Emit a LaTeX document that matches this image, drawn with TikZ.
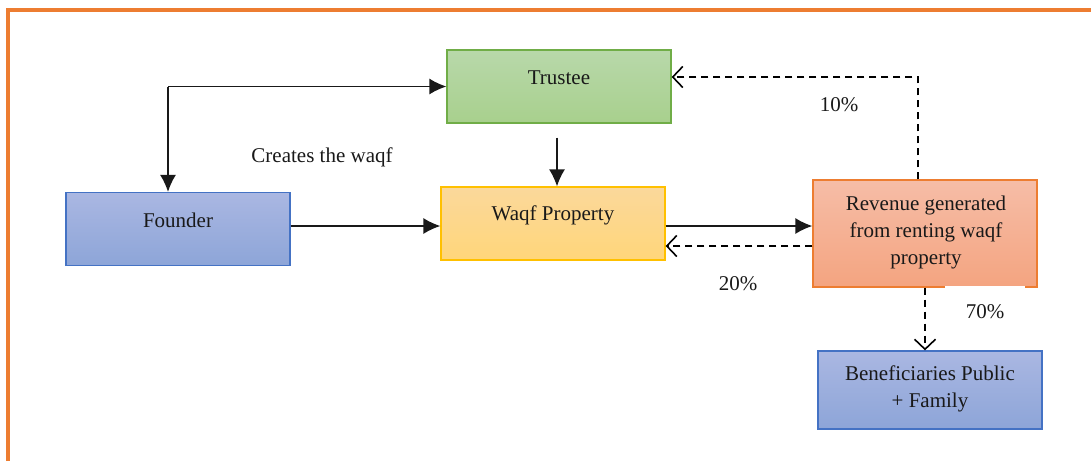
\documentclass[tikz,border=0pt]{standalone}
\usepackage{fontspec}
\setmainfont{Liberation Serif}
\usetikzlibrary{arrows.meta}
\definecolor{frameorange}{RGB}{237,125,49}
\definecolor{greenTop}{RGB}{184,216,170}
\definecolor{greenBot}{RGB}{168,208,141}
\definecolor{greenLine}{RGB}{112,173,71}
\definecolor{yellowTop}{RGB}{251,216,155}
\definecolor{yellowBot}{RGB}{255,214,122}
\definecolor{yellowLine}{RGB}{255,192,0}
\definecolor{blueTop}{RGB}{170,183,226}
\definecolor{blueBot}{RGB}{141,165,216}
\definecolor{blueLine}{RGB}{68,114,196}
\definecolor{salmonTop}{RGB}{246,189,167}
\definecolor{salmonBot}{RGB}{244,164,128}
\definecolor{salmonLine}{RGB}{237,125,49}
\begin{document}
\begin{tikzpicture}[x=1pt,y=-1pt,
  every node/.style={font=\fontsize{21}{27}\selectfont, text=black!90},
  box/.style={draw, line width=1.3pt, inner sep=0pt, minimum width=224pt, minimum height=73pt},
  greenbox/.style={box, draw=greenLine, top color=greenTop, bottom color=greenBot},
  yellowbox/.style={box, draw=yellowLine, top color=yellowTop, bottom color=yellowBot},
  bluebox/.style={box, draw=blueLine, top color=blueTop, bottom color=blueBot},
  salmonbox/.style={box, draw=salmonLine, top color=salmonTop, bottom color=salmonBot},
  txt/.style={align=center, inner sep=0pt},
  solidarrow/.style={line width=1.4pt, draw=black!90, -{Latex[length=17pt,width=16pt]}},
  dasharrow/.style={line width=1.6pt, draw=black, dash pattern=on 7pt off 5pt,
    -{Straight Barb[length=10pt,width=21pt,line width=1.6pt]}},
  lbl/.style={inner sep=0pt}
]
\useasboundingbox (0,0) rectangle (1091,461);
\fill[white] (0,0) rectangle (1091,461);

% outer frame
\draw[frameorange, line width=3.2pt] (8,461) -- (8,10) -- (1091,10);

% boxes
\node[greenbox]  (trustee) at (559,86.5) {};
\node[yellowbox] (waqf)    at (553,223.5) {};
\node[bluebox]   (founder) at (178,229) {};
\node[salmonbox, minimum height=107pt] (revenue) at (925,233.5) {};
\node[bluebox, minimum height=78pt] (benef) at (930,390) {};

% box texts
\node[txt] (trusteeText) at (559,78) {Trustee};
\node[txt] (waqfText)    at (553,215) {Waqf Property};
\node[txt] (founderText) at (178,220) {Founder};
\node[txt] (revenueText) at (926,232) {Revenue generated\\from renting waqf\\property};
\node[txt] (benefText)   at (930,389) {Beneficiaries Public\\+ Family};

% white label backing over the lower edge of the revenue box
\fill[white] (945,285.6) rectangle (1025,289);

% connectors
\coordinate (corner) at (168,86.5);
\draw[solidarrow] (corner) -- (trustee.west);
\draw[solidarrow] (corner) -- (corner |- founder.north);
\draw[solidarrow] ([xshift=-2pt,yshift=-14pt]trustee.south) -- ([xshift=4pt]waqf.north);
\draw[solidarrow] ([yshift=3pt]founder.east) -- ([yshift=-2.5pt]waqf.west);
\draw[solidarrow] ([yshift=-2.5pt]waqf.east) -- ([yshift=7.5pt]revenue.west);
\draw[dasharrow] ([yshift=-12.5pt]revenue.west) -- ([yshift=-22.5pt]waqf.east);
\draw[dasharrow] ([xshift=-7pt]revenue.north) |- ([yshift=9.5pt]trustee.east);
\draw[dasharrow] (revenue.south) -- (revenue.south |- benef.north);

% labels
\node[lbl] (createsLbl) at (322,157) {Creates the waqf};
\node[lbl] (tenLbl)     at (839,105) {10\%};
\node[lbl] (twentyLbl)  at (738,284) {20\%};
\node[lbl] (seventyLbl) at (985,312) {70\%};
\end{tikzpicture}
\end{document}
